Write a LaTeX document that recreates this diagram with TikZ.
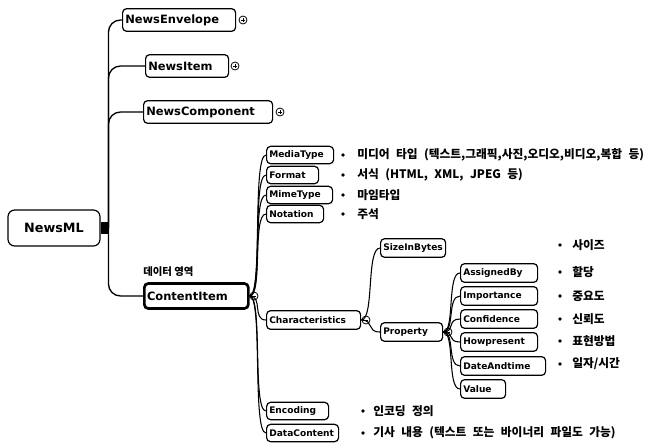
\documentclass[tikz,border=0pt]{standalone}
\usepackage{fontspec}
\setmainfont{DejaVu Sans}
\newfontfamily\kr{Noto Sans CJK KR}
\newcommand{\krdescfont}{\kr\bfseries\fontsize{8.8}{10}\selectfont\spaceskip=0.55em\relax}
\tikzset{
  bx/.style={draw, line width=0.9pt, rounded corners=3pt, anchor=west, align=left,
    inner xsep=2pt, inner ysep=0pt, font=\bfseries\fontsize{6.8}{7.5}\selectfont},
  big/.style={bx, font=\bfseries\fontsize{8.6}{10}\selectfont, minimum height=17pt},
  sm/.style={bx, minimum height=13pt},
  md/.style={bx, minimum height=14pt},
  link/.style={line width=0.8pt},
  trunk/.style={line width=1pt, rounded corners=9pt},
  desc/.style={anchor=west, inner sep=0pt, font=\krdescfont},
  bul/.style={circle, fill=black, inner sep=0pt, minimum size=2.8pt},
  pm/.style={circle, draw, line width=0.6pt, inner sep=0pt, minimum size=6pt}
}
\newcommand{\plusmark}[2]{\node[pm] (#2) at #1 {}; \draw[line width=0.6pt] ([xshift=-1.6pt]#2.center) -- ([xshift=1.6pt]#2.center) ([yshift=-1.6pt]#2.center) -- ([yshift=1.6pt]#2.center);}
\newcommand{\minusmark}[2]{\node[pm] (#2) at #1 {}; \draw[line width=0.6pt] ([xshift=-1.6pt]#2.center) -- ([xshift=1.6pt]#2.center);}
\begin{document}
\begin{tikzpicture}[x=0.75pt,y=-0.75pt]
\useasboundingbox[fill=white] (0,0) rectangle (655,447);

% root
\node[draw, line width=0.9pt, rounded corners=5pt, minimum width=69pt, minimum height=27pt,
  font=\bfseries\fontsize{9.6}{11}\selectfont] (newsml) at (54,228) {NewsML};
\node[fill=black, inner sep=0pt, minimum width=5pt, minimum height=9.5pt, anchor=west] (joint) at (newsml.east) {};
\coordinate (tr) at ([xshift=0.5pt]joint.east);

% top-level children
\node[big, text width=80.75pt] (env) at (122,20) {NewsEnvelope};
\node[big, text width=58.25pt] (item) at (145,66) {NewsItem};
\node[big, text width=92.75pt] (comp) at (143,112) {NewsComponent};
\node[big, text width=74pt, line width=2pt, minimum height=18.75pt] (ci) at (143,296) {ContentItem};
\node[anchor=west, inner sep=0pt, font=\kr\bfseries\fontsize{7.8}{9}\selectfont] (dlabel) at (143,272) {데이터 영역};

\foreach \n in {env,item,comp,ci} \draw[trunk] (tr) |- (\n.west);

\plusmark{(243,20)}{penv}
\plusmark{(235,66)}{pitem}
\plusmark{(280,112)}{pcomp}
\minusmark{(254,296)}{mci}

% ContentItem children
\node[sm, text width=46.25pt] (media) at (266,155) {MediaType};
\node[sm, text width=35pt] (format) at (266,175) {Format};
\node[sm, text width=45.5pt] (mime) at (266,195) {MimeType};
\node[sm, text width=38.75pt] (notation) at (266,214) {Notation};
\node[md, text width=66.5pt] (char) at (266,320) {Characteristics};
\node[sm, text width=42.5pt] (enc) at (266,411) {Encoding};
\node[sm, text width=50pt] (data) at (266,433) {DataContent};

\foreach \n in {media,format,mime,notation,char,enc,data}
  \draw[link] (ci.east) .. controls ([xshift=10pt]ci.east) and ([xshift=-10.5pt]\n.west) .. (\n.west);

\minusmark{(366,320)}{mchar}

% Characteristics children
\node[md, text width=44.75pt] (size) at (380,248) {SizeInBytes};
\node[md, text width=42.5pt] (prop) at (380,332) {Property};
\foreach \n in {size,prop}
  \draw[link] (char.east) .. controls ([xshift=10pt]char.east) and ([xshift=-10.5pt]\n.west) .. (\n.west);
\minusmark{(448,332)}{mprop}

% Property children
\node[md, text width=53.75pt] (assig) at (460,273) {AssignedBy};
\node[md, text width=53.75pt] (imp) at (460,296) {Importance};
\node[md, text width=53.75pt] (conf) at (460,319) {Confidence};
\node[md, text width=53.75pt] (how) at (460,342) {Howpresent};
\node[md, text width=59.75pt] (date) at (460,366) {DateAndtime};
\node[md, text width=29.75pt] (val) at (460,389) {Value};
\foreach \n in {assig,imp,conf,how,date,val}
  \draw[link] (prop.east) .. controls ([xshift=9pt]prop.east) and ([xshift=-10pt]\n.west) .. (\n.west);

% descriptions
\node[bul] (b1) at (343,155) {}; \node[desc] (t1) at (357,155) {미디어 타입 (텍스트,그래픽,사진,오디오,비디오,복합 등)};
\node[bul] (b2) at (343,175) {}; \node[desc] (t2) at (357,175) {서식 (HTML, XML, JPEG 등)};
\node[bul] (b3) at (343,195) {}; \node[desc] (t3) at (357,195) {마임타입};
\node[bul] (b4) at (343,214) {}; \node[desc] (t4) at (357,214) {주석};
\node[bul] (b5) at (560,245) {}; \node[desc] (t5) at (572,245) {사이즈};
\node[bul] (b6) at (560,272) {}; \node[desc] (t6) at (572,272) {할당};
\node[bul] (b7) at (560,296) {}; \node[desc] (t7) at (572,296) {중요도};
\node[bul] (b8) at (560,319) {}; \node[desc] (t8) at (572,319) {신뢰도};
\node[bul] (b9) at (560,341) {}; \node[desc] (t9) at (572,341) {표현방법};
\node[bul] (b10) at (560,364) {}; \node[desc] (t10) at (572,364) {일자/시간};
\node[bul] (b11) at (363,411) {}; \node[desc] (t11) at (373,411) {인코딩 정의};
\node[bul] (b12) at (363,433) {}; \node[desc] (t12) at (373,433) {기사 내용 (텍스트 또는 바이너리 파일도 가능)};
\end{tikzpicture}
\end{document}
